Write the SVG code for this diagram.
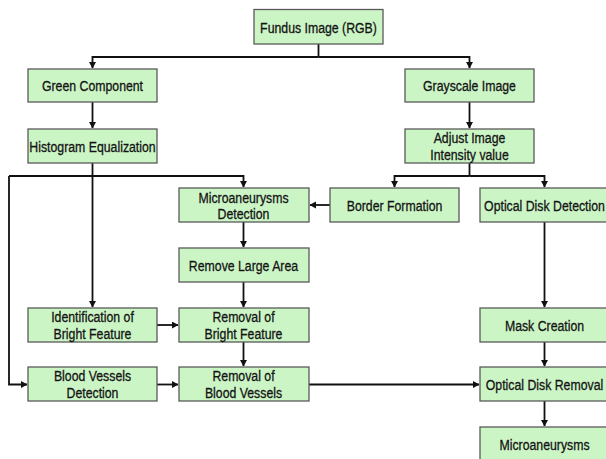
<svg xmlns="http://www.w3.org/2000/svg" width="606" height="459" viewBox="0 0 606 459">
<style>
.box{fill:#ccf5c6;stroke:#5a5a5a;stroke-width:1.3}
.t{font-family:"Liberation Sans",Arial,sans-serif;font-size:12.3px;fill:#141414;stroke:#141414;stroke-width:0.25;text-anchor:middle;dominant-baseline:central}
.c{fill:none;stroke:#111;stroke-width:1.8}
</style>
<defs>
<marker id="ah" markerUnits="userSpaceOnUse" markerWidth="8" markerHeight="8" refX="6" refY="3.5" orient="auto">
<path d="M0,0 L6.5,3.5 L0,7 Z" fill="#111"/>
</marker>
</defs>
<rect width="606" height="459" fill="#ffffff"/>
<g id="connectors">
<path class="c" d="M318.5,44 V57"/>
<path class="c" d="M318.5,57 H92.5 V68" marker-end="url(#ah)"/>
<path class="c" d="M318.5,57 H469.5 V68" marker-end="url(#ah)"/>
<path class="c" d="M92.5,102 V128" marker-end="url(#ah)"/>
<path class="c" d="M469.5,102 V128" marker-end="url(#ah)"/>
<path class="c" d="M92.5,163 V307" marker-end="url(#ah)"/>
<path class="c" d="M9,176 H243.5 V187" marker-end="url(#ah)"/>
<path class="c" d="M9,176 V384.5 H27" marker-end="url(#ah)"/>
<path class="c" d="M469.5,163 V176"/>
<path class="c" d="M469.5,176 H394.5 V187" marker-end="url(#ah)"/>
<path class="c" d="M469.5,176 H544.5 V187" marker-end="url(#ah)"/>
<path class="c" d="M330,205 H310" marker-end="url(#ah)"/>
<path class="c" d="M243.5,222 V247" marker-end="url(#ah)"/>
<path class="c" d="M243.5,282 V307" marker-end="url(#ah)"/>
<path class="c" d="M157,325 H178" marker-end="url(#ah)"/>
<path class="c" d="M243.5,342 V366" marker-end="url(#ah)"/>
<path class="c" d="M157,384.5 H178" marker-end="url(#ah)"/>
<path class="c" d="M308,384.5 H479" marker-end="url(#ah)"/>
<path class="c" d="M544.5,222 V307" marker-end="url(#ah)"/>
<path class="c" d="M544.5,342 V366" marker-end="url(#ah)"/>
<path class="c" d="M544.5,401 V426" marker-end="url(#ah)"/>
</g>
<g id="fundus"><rect class="box" x="254" y="9.5" width="129" height="34.5"/>
<g transform="translate(318.5,27) scale(1,1.25)"><text class="t">Fundus Image (RGB)</text></g></g>
<g id="green"><rect class="box" x="28" y="69" width="129" height="33"/>
<g transform="translate(92.5,85.5) scale(1,1.25)"><text class="t">Green Component</text></g></g>
<g id="gray"><rect class="box" x="405" y="69" width="129" height="33"/>
<g transform="translate(469.5,85.5) scale(1,1.25)"><text class="t">Grayscale Image</text></g></g>
<g id="hist"><rect class="box" x="28" y="129" width="129" height="34"/>
<g transform="translate(92.5,146) scale(1,1.25)"><text class="t">Histogram Equalization</text></g></g>
<g id="adjust"><rect class="box" x="405" y="129" width="129" height="34"/>
<g transform="translate(469.5,137.5) scale(1,1.25)"><text class="t">Adjust Image</text></g>
<g transform="translate(469.5,154) scale(1,1.25)"><text class="t">Intensity value</text></g></g>
<g id="micro-det"><rect class="box" x="179" y="188" width="130" height="34"/>
<g transform="translate(243.5,197) scale(1,1.25)"><text class="t">Microaneurysms</text></g>
<g transform="translate(243.5,213.5) scale(1,1.25)"><text class="t">Detection</text></g></g>
<g id="border"><rect class="box" x="330" y="188" width="129" height="34"/>
<g transform="translate(394.5,205) scale(1,1.25)"><text class="t">Border Formation</text></g></g>
<g id="od-det"><rect class="box" x="480" y="188" width="129" height="34"/>
<g transform="translate(544.5,205) scale(1,1.25)"><text class="t">Optical Disk Detection</text></g></g>
<g id="remove-large"><rect class="box" x="179" y="248" width="130" height="34"/>
<g transform="translate(243.5,265) scale(1,1.25)"><text class="t">Remove Large Area</text></g></g>
<g id="ident"><rect class="box" x="28" y="308" width="129" height="34"/>
<g transform="translate(92.5,316.5) scale(1,1.25)"><text class="t">Identification of</text></g>
<g transform="translate(92.5,333.5) scale(1,1.25)"><text class="t">Bright Feature</text></g></g>
<g id="rem-bright"><rect class="box" x="179" y="308" width="130" height="34"/>
<g transform="translate(243.5,316.5) scale(1,1.25)"><text class="t">Removal of</text></g>
<g transform="translate(243.5,333.5) scale(1,1.25)"><text class="t">Bright Feature</text></g></g>
<g id="mask"><rect class="box" x="480" y="308" width="129" height="34"/>
<g transform="translate(544.5,325) scale(1,1.25)"><text class="t">Mask Creation</text></g></g>
<g id="blood-det"><rect class="box" x="28" y="367" width="129" height="34"/>
<g transform="translate(92.5,375.5) scale(1,1.25)"><text class="t">Blood Vessels</text></g>
<g transform="translate(92.5,392.5) scale(1,1.25)"><text class="t">Detection</text></g></g>
<g id="rem-blood"><rect class="box" x="179" y="367" width="130" height="34"/>
<g transform="translate(243.5,375.5) scale(1,1.25)"><text class="t">Removal of</text></g>
<g transform="translate(243.5,392.5) scale(1,1.25)"><text class="t">Blood Vessels</text></g></g>
<g id="od-rem"><rect class="box" x="480" y="367" width="129" height="34"/>
<g transform="translate(544.5,384) scale(1,1.25)"><text class="t">Optical Disk Removal</text></g></g>
<g id="micro"><rect class="box" x="480" y="427" width="129" height="34"/>
<g transform="translate(544.5,444) scale(1,1.25)"><text class="t">Microaneurysms</text></g></g>
</svg>
